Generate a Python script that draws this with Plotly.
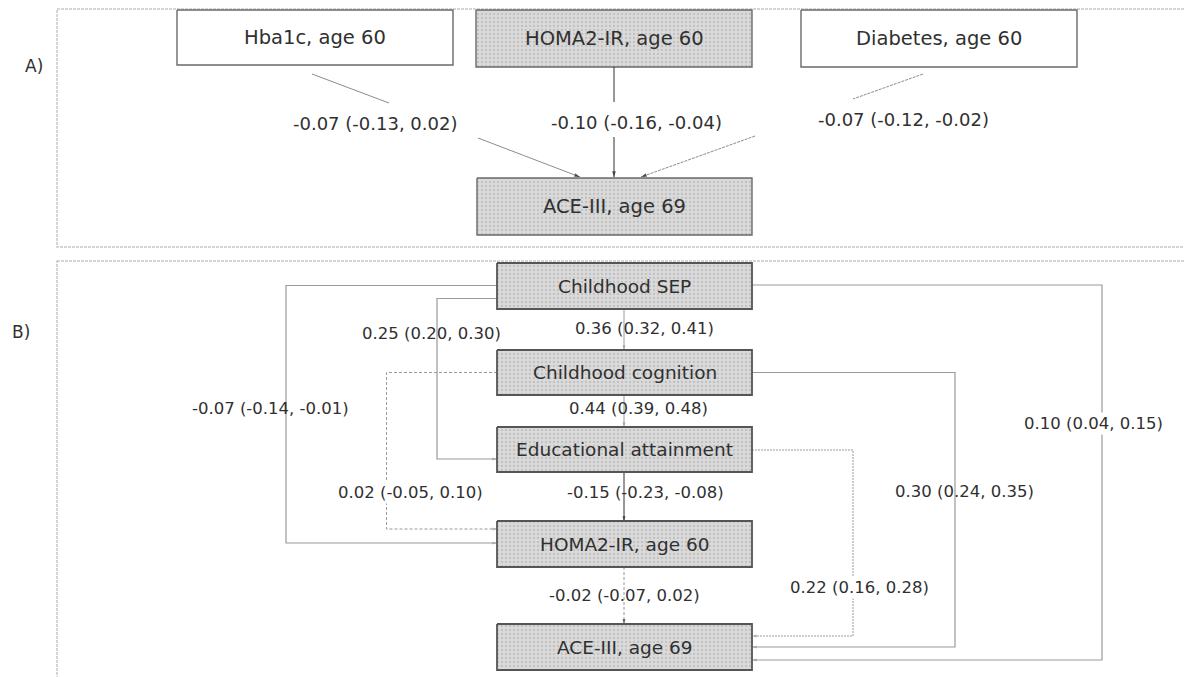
import plotly.graph_objects as go

# ---------------- data ----------------
panel_tags = ["A)", "B)"]

a_nodes = ["Hba1c, age 60", "HOMA2-IR, age 60", "Diabetes, age 60", "ACE-III, age 69"]
a_shaded = [False, True, False, True]
a_est = [-0.07, -0.10, -0.07]
a_lo = [-0.13, -0.16, -0.12]
a_hi = [0.02, -0.04, -0.02]

b_nodes = ["Childhood SEP", "Childhood cognition", "Educational attainment",
           "HOMA2-IR, age 60", "ACE-III, age 69"]
# paths: SEP->Cog, Cog->Edu, Edu->HOMA, HOMA->ACE, SEP->HOMA, SEP->Edu,
#        Cog->HOMA, Edu->ACE, Cog->ACE, SEP->ACE
b_est = [0.36, 0.44, -0.15, -0.02, -0.07, 0.25, 0.02, 0.22, 0.30, 0.10]
b_lo = [0.32, 0.39, -0.23, -0.07, -0.14, 0.20, -0.05, 0.16, 0.24, 0.04]
b_hi = [0.41, 0.48, -0.08, 0.02, -0.01, 0.30, 0.10, 0.28, 0.35, 0.15]


def fmt(e, l, h):
    return f"{e:.2f} ({l:.2f}, {h:.2f})"


# ---------------- geometry (pixel layout of the diagram) ----------------
W, H = 1192, 677
OFF = 8  # page body margin: data units equal screen pixels
FONT = "DejaVu Sans"
TXT = "#303030"

a_boxes = [(177, 453, 10, 65), (476, 752, 10, 67), (801, 1077, 10, 67), (477, 752, 178, 235)]
BX0, BX1 = 497, 752
b_boxes = [(BX0, BX1, 263, 309), (BX0, BX1, 350, 395), (BX0, BX1, 427, 472),
           (BX0, BX1, 521, 567), (BX0, BX1, 624, 670)]

a_edges = [
    dict(segs=[[(312, 74), (389, 103)], [(478, 138), (580, 177)]], color="#8c8c8c", width=1, dash="solid", head="#202020"),
    dict(segs=[[(614, 67), (614, 102)], [(614, 137), (614, 177)]], color="#303030", width=1, dash="solid", head="#202020"),
    dict(segs=[[(923, 74), (853, 99)], [(755, 136), (641, 177)]], color="#8c8c8c", width=1, dash="3px,1px", head="#202020"),
]
a_label_pos = [(375, 123), (636, 122), (903, 119)]

b_edges = [
    dict(segs=[[(624, 309), (624, 350)]], color="#9a9a9a", width=1, dash="solid", head="#9a9a9a"),
    dict(segs=[[(624, 395), (624, 427)]], color="#9a9a9a", width=1, dash="solid", head="#9a9a9a"),
    dict(segs=[[(624, 472), (624, 521)]], color="#303030", width=1, dash="solid", head="#202020"),
    dict(segs=[[(624, 567), (624, 624)]], color="#9a9a9a", width=1, dash="3px,2px", head="#202020"),
    dict(segs=[[(497, 285.5), (286, 285.5), (286, 543), (497, 543)]], color="#9a9a9a", width=1.2, dash="solid", head="#9a9a9a"),
    dict(segs=[[(497, 298.5), (437, 298.5), (437, 459), (497, 459)]], color="#9a9a9a", width=1.2, dash="solid", head="#9a9a9a"),
    dict(segs=[[(497, 372.5), (386.5, 372.5), (386.5, 529), (497, 529)]], color="#9a9a9a", width=1, dash="3px,2px", head="#9a9a9a"),
    dict(segs=[[(752, 450), (853, 450), (853, 636), (752, 636)]], color="#9a9a9a", width=1, dash="2px,1px", head="#9a9a9a"),
    dict(segs=[[(752, 372.5), (955, 372.5), (955, 647), (752, 647)]], color="#9a9a9a", width=1.2, dash="solid", head="#9a9a9a"),
    dict(segs=[[(752, 285), (1102, 285), (1102, 660), (752, 660)]], color="#9a9a9a", width=1.2, dash="solid", head="#9a9a9a"),
]
b_label_pos = [(644, 328), (638, 408), (645, 492), (624, 595), (270, 408),
               (431, 333), (410, 492), (859, 587), (964, 491), (1093, 423)]
b_label_bg = [False, False, False, False, False, False, True, True, False, True]

fig = go.Figure()


def add_box(x0, x1, y0, y1, shaded, lc, lw):
    kw = dict(x=[x0, x1, x1, x0, x0], y=[y0, y0, y1, y1, y0], mode="lines", fill="toself",
              line=dict(color=lc, width=lw), hoverinfo="skip", showlegend=False)
    if shaded:
        kw["fillcolor"] = "#d9d9d9"
        kw["fillpattern"] = dict(shape=".", fgcolor="#a6a6a6", bgcolor="#dadada", size=4, solidity=0.25)
    else:
        kw["fillcolor"] = "white"
    fig.add_trace(go.Scatter(**kw))


def add_edge(e, head_size=6):
    xs, ys = [], []
    for seg in e["segs"]:
        for (x, y) in seg:
            xs.append(x)
            ys.append(y)
        xs.append(None)
        ys.append(None)
    fig.add_trace(go.Scatter(x=xs, y=ys, mode="lines",
                             line=dict(color=e["color"], width=e["width"], dash=e["dash"]),
                             hoverinfo="skip", showlegend=False))
    (px, py), (tx, ty) = e["segs"][-1][-2], e["segs"][-1][-1]
    fig.add_trace(go.Scatter(x=[px, tx], y=[py, ty], mode="markers",
                             marker=dict(symbol="arrow", size=[0, head_size], angleref="previous",
                                         color=e["head"], line=dict(width=0)),
                             hoverinfo="skip", showlegend=False))


# panel frames
fig.add_shape(type="rect", x0=57, x1=1215, y0=9, y1=247, xref="x", yref="y",
              line=dict(color="#c8c8c8", width=1.5, dash="3px,1px"), layer="below")
fig.add_shape(type="rect", x0=57, x1=1215, y0=261, y1=710, xref="x", yref="y",
              line=dict(color="#c8c8c8", width=1.5, dash="3px,1px"), layer="below")

# panel A
for i, name in enumerate(a_nodes):
    x0, x1, y0, y1 = a_boxes[i]
    add_box(x0, x1, y0, y1, a_shaded[i], "#6a6a6a", 1.4)
    fig.add_annotation(x=(x0 + x1) / 2, y=(y0 + y1) / 2, text=name, showarrow=False,
                       font=dict(family=FONT, size=19.5, color=TXT), xref="x", yref="y")
for i, e in enumerate(a_edges):
    add_edge(e, 6)
    lx, ly = a_label_pos[i]
    fig.add_annotation(x=lx, y=ly, text=fmt(a_est[i], a_lo[i], a_hi[i]), showarrow=False,
                       font=dict(family=FONT, size=18, color=TXT), xref="x", yref="y")

# panel B
for i, e in enumerate(b_edges):
    add_edge(e, 5)
for i, name in enumerate(b_nodes):
    x0, x1, y0, y1 = b_boxes[i]
    add_box(x0, x1, y0, y1, True, "#555555", 1.8)
    fig.add_annotation(x=(x0 + x1) / 2, y=(y0 + y1) / 2, text=name, showarrow=False,
                       font=dict(family=FONT, size=18.5, color=TXT), xref="x", yref="y")
for i in range(len(b_est)):
    lx, ly = b_label_pos[i]
    fig.add_annotation(x=lx, y=ly, text=fmt(b_est[i], b_lo[i], b_hi[i]), showarrow=False,
                       bgcolor="white" if b_label_bg[i] else "rgba(0,0,0,0)", borderpad=1,
                       font=dict(family=FONT, size=16.5, color=TXT), xref="x", yref="y")

# panel tags
fig.add_annotation(x=34, y=66, text=panel_tags[0], showarrow=False,
                   font=dict(family=FONT, size=17, color=TXT), xref="x", yref="y")
fig.add_annotation(x=21, y=332, text=panel_tags[1], showarrow=False,
                   font=dict(family=FONT, size=17, color=TXT), xref="x", yref="y")

fig.update_layout(width=W, height=H, margin=dict(l=0, r=0, t=0, b=0),
                  paper_bgcolor="white", plot_bgcolor="white", showlegend=False)
fig.update_xaxes(range=[OFF, W + OFF], visible=False, fixedrange=True)
fig.update_yaxes(range=[H + OFF, OFF], visible=False, fixedrange=True)

fig.write_html("out.html")
